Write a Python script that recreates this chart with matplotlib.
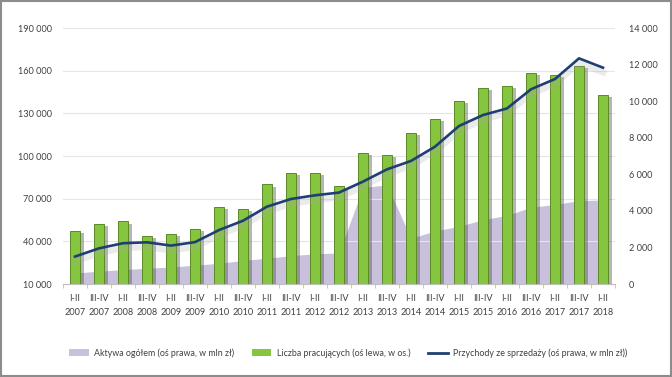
import matplotlib
matplotlib.use("Agg")
import matplotlib.pyplot as plt
import matplotlib.patheffects as pe
from matplotlib.patches import Patch, Rectangle
from matplotlib.lines import Line2D
import numpy as np

plt.rcParams['font.family'] = ['Lato', 'DejaVu Sans']

periods = ["I-II", "III-IV"] * 11 + ["I-II"]
years = [str(y) for y in range(2007, 2018) for _ in range(2)] + ["2018"]
categories = [f"{p}\n{y}" for p, y in zip(periods, years)]

# Liczba pracujących (left axis)
workers = [47000, 52000, 54000, 44000, 45000, 48500, 64000, 62500, 80000, 87800,
           87800, 79000, 102000, 101000, 116400, 126000, 138700, 148000, 149200,
           158100, 156700, 163300, 143000]
# Przychody ze sprzedaży (right axis, mln zł)
revenue = [1500, 1950, 2230, 2280, 2100, 2290, 2950, 3460, 4230, 4650, 4850,
           5000, 5600, 6270, 6730, 7510, 8640, 9240, 9600, 10650, 11210, 12340, 11830]
# Aktywa ogółem (right axis, mln zł)
assets = [600, 700, 790, 860, 930, 1030, 1130, 1290, 1410, 1550, 1650, 1700,
          5280, 5420, 2500, 2900, 3150, 3520, 3750, 4200, 4350, 4560, 4590]

left_ticks = list(range(10000, 190001, 30000))
right_ticks = list(range(0, 14001, 2000))

W, H = 672, 377
fig = plt.figure(figsize=(W / 100, H / 100), dpi=100)
fig.patch.set_facecolor("white")

rect = [63 / W, 1 - 284 / H, (615 - 63) / W, (284 - 28) / H]
ax1 = fig.add_axes(rect)            # bars, left scale
ax_area = ax1.twinx()               # area, right scale (bottom layer)
ax_line = ax1.twinx()               # line, right scale (top layer)

ax_area.set_zorder(1)
ax1.set_zorder(2)
ax_line.set_zorder(3)
ax1.patch.set_visible(False)
ax_line.patch.set_visible(False)
ax_area.patch.set_facecolor("white")

x = np.arange(len(categories))
txt = "#404040"
fs = 6.6

# area
ax_area.fill_between(x, 0, assets, color="#c9c0dc", linewidth=0, zorder=2)
ax_area.set_ylim(0, 14000)
ax_area.set_yticks(right_ticks)
ax_area.set_yticklabels([f"{v:,}".replace(",", " ") for v in right_ticks])
ax_area.tick_params(axis="y", length=0, pad=10, labelsize=fs, colors=txt)

# bars
bars = ax1.bar(x, workers, width=0.42, bottom=0, color="#86c540",
               edgecolor="#5a8a26", linewidth=0.7, zorder=3)
for b in bars:
    b.set_path_effects([pe.SimplePatchShadow(offset=(3.2, -1.5), shadow_rgbFace="#4a4a4a", alpha=0.4),
                        pe.Normal()])
ax1.set_ylim(10000, 190000)
ax1.set_yticks(left_ticks)
ax1.set_yticklabels([f"{v:,}".replace(",", " ") for v in left_ticks])
ax1.tick_params(axis="y", length=0, pad=8, labelsize=fs, colors=txt)
ax1.yaxis.grid(True, color="#e6e6e6", linewidth=0.8, zorder=0)
ax1.set_axisbelow(True)
ax1.set_xlim(-0.5, len(categories) - 0.5)
ax1.set_xticks(x)
ax1.set_xticklabels(categories, fontsize=fs, color=txt, linespacing=1.75)
ax1.set_xticks(np.arange(-0.5, len(categories), 1), minor=True)
ax1.tick_params(axis="x", which="major", length=0, pad=7)
ax1.tick_params(axis="x", which="minor", length=3, color="#bfbfbf", direction="out")
for s in ["top", "left", "right"]:
    ax1.spines[s].set_visible(False)
ax1.spines["bottom"].set_color("#bfbfbf")
for a in (ax_area, ax_line):
    for s in a.spines.values():
        s.set_visible(False)

# line
ax_line.plot(x, revenue, color="#1f3f73", linewidth=1.9, zorder=5,
             path_effects=[pe.SimpleLineShadow(offset=(0, -3.5), shadow_color="#a8a8a8",
                                               alpha=0.22, linewidth=4.5), pe.Normal()])
ax_line.set_ylim(0, 14000)
ax_line.set_yticks([])

# legend
handles = [Patch(facecolor="#c9c0dc", edgecolor="none"),
           Patch(facecolor="#86c540", edgecolor="none"),
           Line2D([0], [0], color="#1f3f73", linewidth=2)]
labels = ["Aktywa ogółem (oś prawa, w mln zł)",
          "Liczba pracujących (oś lewa, w os.)",
          "Przychody ze sprzedaży (oś prawa, w mln zł))"]
fig.legend(handles, labels, loc="center", bbox_to_anchor=(0.518, 1 - 353 / H), ncol=3,
           frameon=False, fontsize=6.4, labelcolor=txt, handlelength=2.2,
           handleheight=0.8, columnspacing=2.0, handletextpad=0.6)

# figure border
fig.add_artist(Rectangle((0.0015, 0.0025), 0.997, 0.995, transform=fig.transFigure,
                         fill=False, edgecolor="#8c8c8c", linewidth=1.5))

fig.savefig("out.png", dpi=100, facecolor="white")
